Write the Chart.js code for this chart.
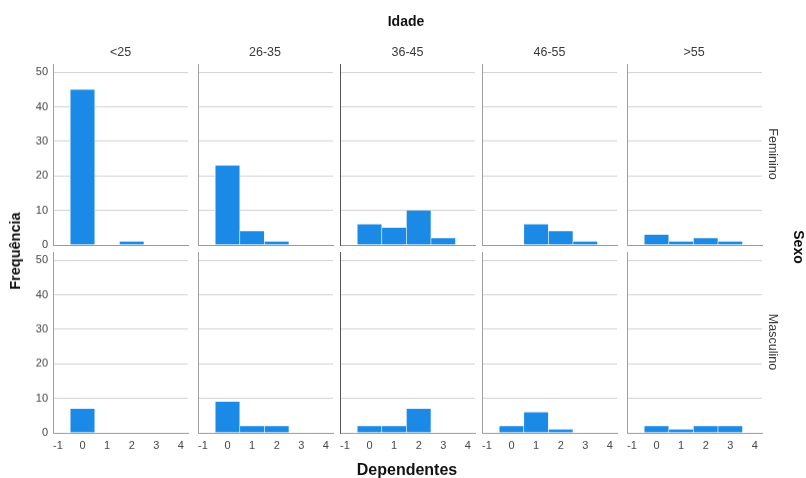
<!DOCTYPE html>
<html>
<head>
<meta charset="utf-8">
<script src="https://cdn.jsdelivr.net/npm/chart.js@4"></script>
<style>
  body { margin: 0; background: #fff; font-family: "Liberation Sans", Arial, sans-serif; }
  #wrap { position: relative; width: 806px; height: 478px; overflow: hidden; }
  canvas { position: absolute; }
  .lbl { position: absolute; white-space: nowrap; color: #3a3a3a; }
  .bold { font-weight: bold; color: #111; }
</style>
</head>
<body>
<div id="wrap"></div>
<script>
// Facet categories
const ageGroups = ['<25', '26-35', '36-45', '46-55', '>55'];
const sexGroups = ['Feminino', 'Masculino'];
// Number of dependents (x bins)
const dependents = [0, 1, 2, 3];
// Frequencies per panel, rows = sex, columns = age group
const femCounts = [
    [45, 0, 1, 0],
    [23, 4, 1, 0],
    [6, 5, 10, 2],
    [0, 6, 4, 1],
    [3, 1, 2, 1]
];
const mascCounts = [
    [7, 0, 0, 0],
    [9, 2, 2, 0],
    [2, 2, 7, 0],
    [2, 6, 1, 0],
    [2, 1, 2, 2]
];
const xTicks = [-1, 0, 1, 2, 3, 4];
const yTicks = [0, 10, 20, 30, 40, 50];

const wrap = document.getElementById('wrap');
const colLeft = [53, 197.5, 340, 482, 626.5];
const panelW = 135;
const rowTop = [64, 252];
const panelH = 180.5;

function addLabel(text, x, y, cls, style, rot) {
    const d = document.createElement('div');
    d.className = 'lbl ' + (cls || '');
    d.textContent = text;
    d.style.cssText += style || '';
    d.style.left = x + 'px';
    d.style.top = y + 'px';
    d.style.transform = 'translate(-50%, -50%)' + (rot ? ' rotate(' + rot + 'deg)' : '');
    wrap.appendChild(d);
}

function makePanel(row, col, counts) {
    const first = col === 0;
    const bottom = row === 1;
    const yW = first ? 53 : 4;
    const xH = bottom ? 22 : 0;
    const cv = document.createElement('canvas');
    const left = colLeft[col] - yW;
    const w = yW + panelW + 8;
    const h = 8 + panelH + xH + 8;
    cv.width = w; cv.height = h;
    cv.style.left = left + 'px';
    cv.style.top = (rowTop[row] - 8) + 'px';
    cv.style.width = w + 'px'; cv.style.height = h + 'px';
    wrap.appendChild(cv);

    new Chart(cv.getContext('2d'), {
        type: 'bar',
        data: {
            datasets: [{
                data: counts.map((v, i) => ({ x: dependents[i], y: v })),
                backgroundColor: '#1a8ae6',
                borderColor: '#ffffff',
                borderWidth: { left: 0.6, right: 0.6, top: 0, bottom: 0 },
                borderSkipped: false,
                barPercentage: 1,
                categoryPercentage: 1
            }]
        },
        options: {
            responsive: false,
            animation: false,
            events: [],
            layout: { padding: { top: 8, bottom: 8, left: 0, right: 8 } },
            plugins: { legend: { display: false }, tooltip: { enabled: false } },
            scales: {
                x: {
                    type: 'linear',
                    offset: false,
                    min: -1.2,
                    max: 4.29,
                    afterBuildTicks: s => { s.ticks = xTicks.map(v => ({ value: v })); },
                    afterFit: s => { s.height = xH; s.paddingLeft = 0; s.paddingRight = 0; },
                    grid: { display: false, drawTicks: false, offset: false },
                    border: { display: true, color: '#9a9a9a', width: 1 },
                    ticks: {
                        display: bottom,
                        padding: 6,
                        color: '#444',
                        font: { family: 'Liberation Sans', size: 11 }
                    }
                },
                y: {
                    min: 0,
                    max: 52.4,
                    afterBuildTicks: s => { s.ticks = yTicks.map(v => ({ value: v })); },
                    afterFit: s => { s.width = yW; s.paddingTop = 0; s.paddingBottom = 0; },
                    grid: { color: '#d2d2d2', drawTicks: false, lineWidth: 1 },
                    border: { display: true, color: col === 2 ? '#555' : '#a0a0a0', width: 1 },
                    ticks: {
                        display: first,
                        padding: 5,
                        color: '#444',
                        font: { family: 'Liberation Sans', size: 11 }
                    }
                }
            }
        }
    });
}

for (let c = 0; c < ageGroups.length; c++) {
    makePanel(0, c, femCounts[c]);
    makePanel(1, c, mascCounts[c]);
    addLabel(ageGroups[c], colLeft[c] + panelW / 2, 52, '', 'font-size:12.5px;');
}

addLabel(sexGroups[0], 773, 154, '', 'font-size:12.5px;', 90);
addLabel(sexGroups[1], 773, 342, '', 'font-size:12.5px;', 90);
addLabel('Idade', 406, 21, 'bold', 'font-size:14px;');
addLabel('Sexo', 799, 247, 'bold', 'font-size:14px;', 90);
addLabel('Frequência', 15, 251, 'bold', 'font-size:14.5px;', -90);
addLabel('Dependentes', 407, 470, 'bold', 'font-size:16px;');
</script>
</body>
</html>
